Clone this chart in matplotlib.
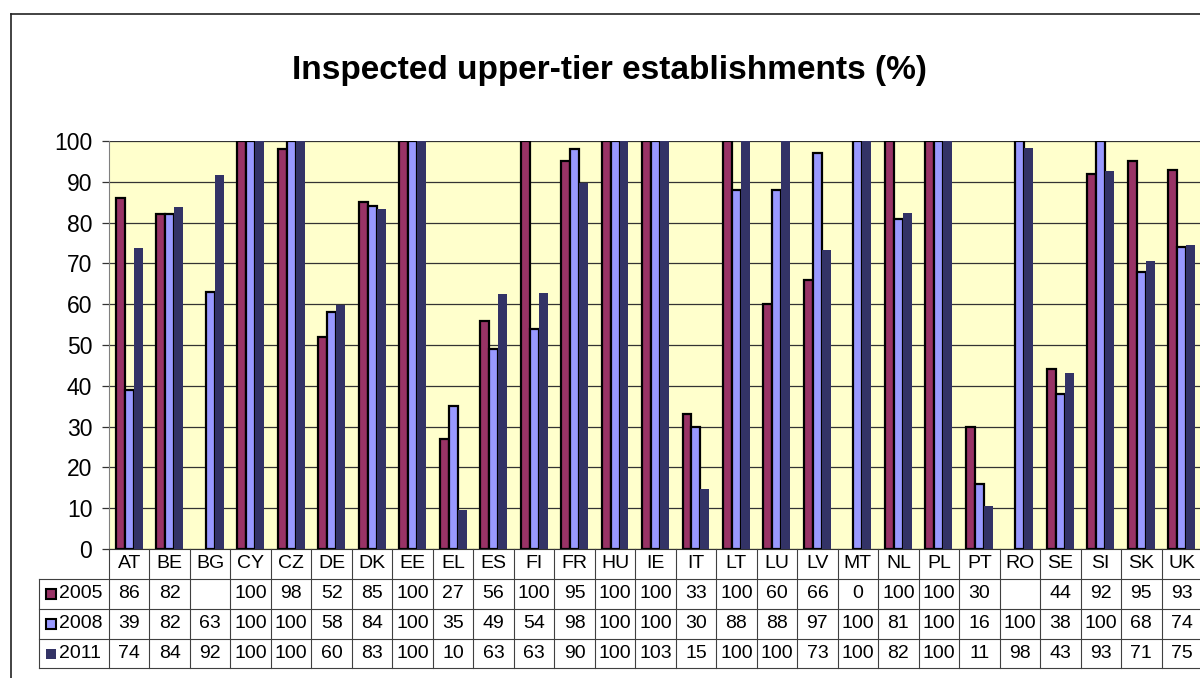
import numpy as np
import matplotlib
matplotlib.use('Agg')
import matplotlib.pyplot as plt
from matplotlib import transforms
from matplotlib.patches import Rectangle
from matplotlib.lines import Line2D

plt.rcParams['font.family'] = ['Liberation Sans', 'DejaVu Sans']

# Data (None = no value reported)
countries = ['AT', 'BE', 'BG', 'CY', 'CZ', 'DE', 'DK', 'EE', 'EL', 'ES', 'FI', 'FR', 'HU', 'IE',
             'IT', 'LT', 'LU', 'LV', 'MT', 'NL', 'PL', 'PT', 'RO', 'SE', 'SI', 'SK', 'UK']
years = ['2005', '2008', '2011']
v2005 = [86, 82, None, 100, 98, 52, 85, 100, 27, 56, 100, 95, 100, 100,
         33, 100, 60, 66, 0, 100, 100, 30, None, 44, 92, 95, 93]
v2008 = [39, 82, 63, 100, 100, 58, 84, 100, 35, 49, 54, 98, 100, 100,
         30, 88, 88, 97, 100, 81, 100, 16, 100, 38, 100, 68, 74]
v2011 = [73.8, 83.8, 91.6, 100, 100, 59.8, 83.3, 100, 9.6, 62.6, 62.7, 89.6, 100, 103,
         14.6, 100, 100, 73.3, 100, 82.3, 100, 10.6, 98.2, 43.2, 92.6, 70.6, 74.6]
series = [v2005, v2008, v2011]
colors = ['#993366', '#9999FF', '#333366']
edges = ['black', 'black', 'none']

W, H = 1200, 678
fig = plt.figure(figsize=(W / 100, H / 100), dpi=100)

def fx(px):
    return px / W

def fy(py):
    return 1 - py / H

# plot area
left, right, top, bottom = 109, 1202, 141, 549
ax = fig.add_axes([fx(left), fy(bottom), fx(right) - fx(left), fy(top) - fy(bottom)])
ax.set_facecolor('#FFFFCC')

n = len(countries)
x = np.arange(n)
bw = 0.222
for k, (vals, c, ec) in enumerate(zip(series, colors, edges)):
    for i, v in enumerate(vals):
        if v is None or v == 0:
            continue
        ax.bar(x[i] + (k - 1) * bw, min(v, 100), width=bw, color=c,
               edgecolor=ec, linewidth=1.6 if ec != 'none' else 0, zorder=3)

ax.set_xlim(-0.5, n - 0.5)
ax.set_ylim(0, 100)
ax.set_yticks(range(0, 101, 10))
ax.set_xticks([])
ax.yaxis.grid(True, color='#333333', linewidth=0.9, zorder=1)
ax.set_axisbelow(True)
ax.tick_params(axis='y', length=5, width=0.9, color='#333333', pad=7, labelsize=16.5)
for s in ['top', 'right']:
    ax.spines[s].set_visible(False)
ax.spines['left'].set_color('#808080')
ax.spines['bottom'].set_color('#333333')

# data table below the plot
row_edges = [549, 579, 609, 639, 668]
tr = transforms.blended_transform_factory(ax.transData, fig.transFigure)
line_c = '#404040'
for i in range(n + 1):
    fig.add_artist(Line2D([i - 0.5, i - 0.5], [fy(row_edges[0]), fy(row_edges[-1])],
                          transform=tr, color=line_c, lw=0.8))
for r in row_edges[1:]:
    fig.add_artist(Line2D([fx(39), fx(1200)], [fy(r), fy(r)], transform=fig.transFigure,
                          color=line_c, lw=0.8))
fig.add_artist(Line2D([fx(39), fx(39)], [fy(row_edges[1]), fy(row_edges[-1])],
                      transform=fig.transFigure, color=line_c, lw=0.8))

tsize = 14
for i, c in enumerate(countries):
    fig.text(x[i], fy((row_edges[0] + row_edges[1]) / 2), c, transform=tr,
             ha='center', va='center', fontsize=tsize)
for k, vals in enumerate(series):
    yc = fy((row_edges[k + 1] + row_edges[k + 2]) / 2)
    for i, v in enumerate(vals):
        if v is None:
            continue
        fig.text(x[i], yc, f'{v:.0f}', transform=tr, ha='center', va='center', fontsize=tsize)
    # legend key
    fig.add_artist(Rectangle((fx(46), yc - 5 / H), 10 / W, 10 / H, transform=fig.transFigure,
                             facecolor=colors[k], edgecolor=edges[k], lw=1.5))
    fig.text(fx(59), yc, years[k], ha='left', va='center', fontsize=tsize)

# outer chart border
fig.add_artist(Line2D([fx(10.5), fx(1200)], [fy(13.5), fy(13.5)], transform=fig.transFigure,
                      color='#222222', lw=1.2))
fig.add_artist(Line2D([fx(10.5), fx(10.5)], [fy(13.5), 0], transform=fig.transFigure,
                      color='#222222', lw=1.2))

fig.text(fx(609), fy(70), 'Inspected upper-tier establishments (%)', ha='center', va='center',
         fontsize=24, fontweight='bold')

fig.savefig('out.png', dpi=100)
